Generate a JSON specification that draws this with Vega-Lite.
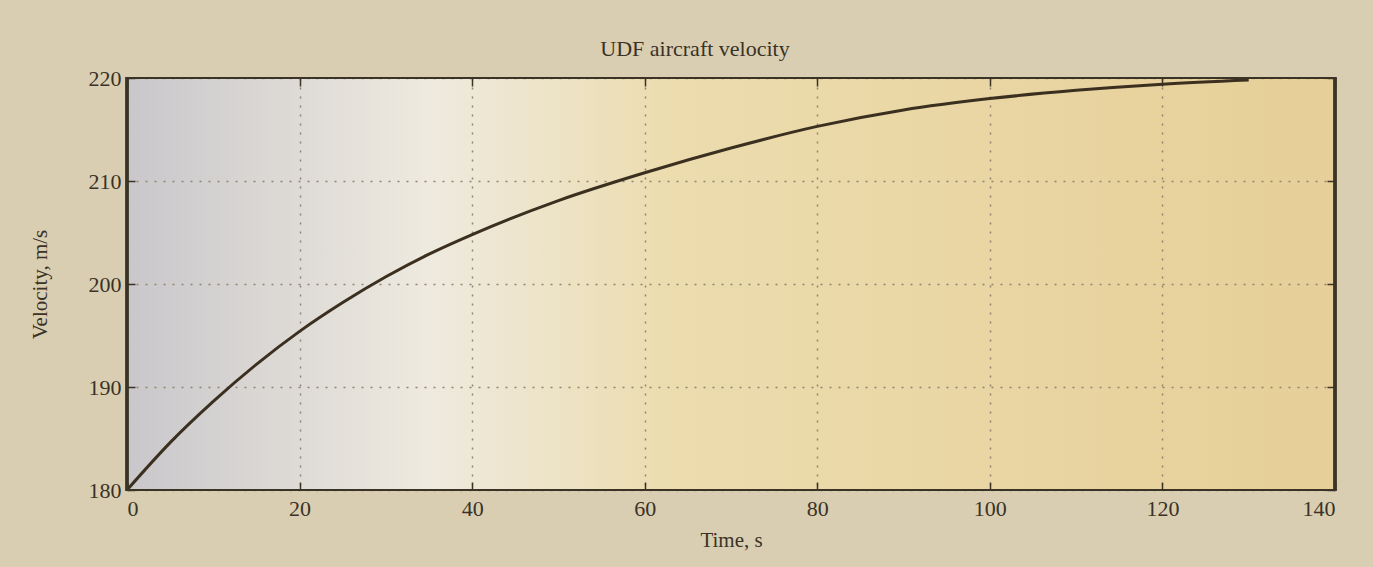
{
  "$schema": "https://vega.github.io/schema/vega-lite/v6.json",
  "width": 1208,
  "height": 412,
  "autosize": {"type": "none"},
  "padding": {"left": 127, "top": 78, "right": 38, "bottom": 77},
  "background": "#d9ceb2",
  "config": {
    "view": {
      "stroke": null,
      "fill": {
        "gradient": "linear",
        "x1": 0, "y1": 0.5, "x2": 1, "y2": 0.5,
        "stops": [
          {"offset": 0, "color": "#c9c7cb"},
          {"offset": 0.25, "color": "#eeeadf"},
          {"offset": 0.45, "color": "#ecdcae"},
          {"offset": 1, "color": "#e6cf98"}
        ]
      }
    },
    "font": "Liberation Serif",
    "title": {"font": "Liberation Serif", "fontSize": 22, "fontWeight": "normal", "color": "#3a3226"}
  },
  "title": {"text": "UDF aircraft velocity", "dx": -36, "offset": 6},
  "data": {
    "values": [
      {"t": 0, "v": 180.0},
      {"t": 5, "v": 184.6},
      {"t": 10, "v": 188.6},
      {"t": 15, "v": 192.2},
      {"t": 20, "v": 195.4},
      {"t": 25, "v": 198.2},
      {"t": 30, "v": 200.7},
      {"t": 35, "v": 202.9},
      {"t": 40, "v": 204.8},
      {"t": 50, "v": 208.1},
      {"t": 60, "v": 210.8},
      {"t": 70, "v": 213.2},
      {"t": 80, "v": 215.3},
      {"t": 90, "v": 216.9},
      {"t": 100, "v": 218.0},
      {"t": 110, "v": 218.8},
      {"t": 120, "v": 219.4},
      {"t": 130, "v": 219.8}
    ]
  },
  "resolve": {"axis": {"x": "independent", "y": "independent"}},
  "layer": [
    {
      "mark": {"type": "line", "color": "#3b3020", "strokeWidth": 3, "interpolate": "monotone"},
      "encoding": {
        "x": {
          "field": "t", "type": "quantitative", "title": "Time, s",
          "scale": {"domain": [0, 140], "nice": false},
          "axis": {
            "values": [0, 20, 40, 60, 80, 100, 120, 140],
            "grid": true, "gridDash": [2, 7], "gridColor": "#8e8470", "gridWidth": 1.5,
            "domain": false, "tickSize": -8, "tickColor": "#3b3326", "tickWidth": 1.5,
            "labelFont": "Liberation Serif", "labelFontSize": 22, "labelColor": "#3a3226",
            "labelPadding": 16, "titleFont": "Liberation Serif", "titleFontSize": 21,
            "titleFontWeight": "normal", "titleColor": "#3a3226", "titlePadding": 10
          }
        },
        "y": {
          "field": "v", "type": "quantitative", "title": "Velocity, m/s",
          "scale": {"domain": [180, 220], "nice": false, "zero": false},
          "axis": {
            "values": [180, 190, 200, 210, 220],
            "grid": true, "gridDash": [2, 7], "gridColor": "#8e8470", "gridWidth": 1.5,
            "domain": false, "tickSize": -8, "tickColor": "#3b3326", "tickWidth": 1.5,
            "labelFont": "Liberation Serif", "labelFontSize": 22, "labelColor": "#3a3226",
            "labelPadding": 14, "titleFont": "Liberation Serif", "titleFontSize": 21,
            "titleFontWeight": "normal", "titleColor": "#3a3226", "titlePadding": 38
          }
        }
      }
    },
    {
      "mark": {"type": "line", "opacity": 0},
      "encoding": {
        "x": {
          "field": "t", "type": "quantitative",
          "axis": {"orient": "top", "values": [0, 20, 40, 60, 80, 100, 120, 140], "labels": false, "title": null, "grid": false, "domain": false, "tickSize": -8, "tickColor": "#3b3326", "tickWidth": 1.5}
        },
        "y": {
          "field": "v", "type": "quantitative",
          "axis": {"orient": "right", "values": [180, 190, 200, 210, 220], "labels": false, "title": null, "grid": false, "domain": false, "tickSize": -8, "tickColor": "#3b3326", "tickWidth": 1.5}
        }
      }
    },
    {
      "mark": {"type": "rect", "filled": false, "stroke": "#3b3326", "strokeWidth": 2.2},
      "encoding": {
        "x": {"datum": 0, "type": "quantitative", "axis": null},
        "x2": {"datum": 140},
        "y": {"datum": 180, "type": "quantitative", "axis": null},
        "y2": {"datum": 220}
      }
    }
  ]
}
